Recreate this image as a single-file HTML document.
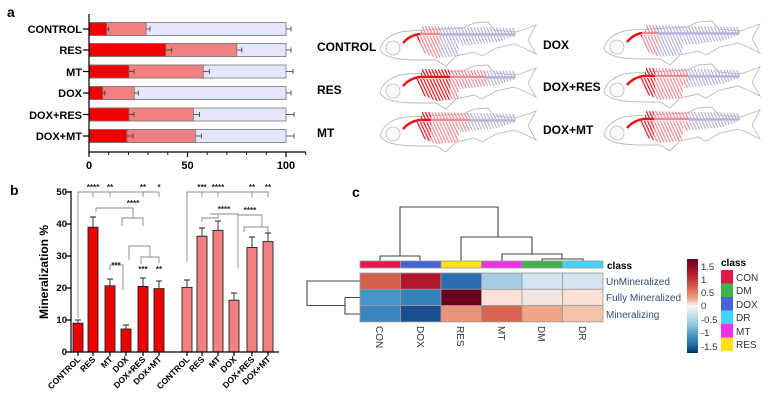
<!DOCTYPE html>
<html><head><meta charset="utf-8"><style>
body{margin:0;background:#fff}
svg{display:block;font-family:"Liberation Sans",Arial,sans-serif}
.b{font-weight:bold}
</style></head><body>
<svg width="768" height="401" viewBox="0 0 768 401" xmlns="http://www.w3.org/2000/svg">
<defs>
<pattern id="pr" width="3.2" height="30" patternUnits="userSpaceOnUse" patternTransform="skewX(25)"><rect width="1.3" height="30" fill="#e8141c"/></pattern>
<pattern id="pp" width="3.2" height="30" patternUnits="userSpaceOnUse" patternTransform="skewX(25)"><rect width="1.3" height="30" fill="#ee8a92"/></pattern>
<pattern id="pl" width="3.2" height="30" patternUnits="userSpaceOnUse" patternTransform="skewX(25)"><rect width="1.3" height="30" fill="#b9b0d8"/></pattern>
<clipPath id="ribs"><path d="M38,14 L82,14 L80,34 L58,36 L44,30 Z M42,13 L138,13 L136,6 L44,4 Z M82,14 L138,14 L120,20 L82,24 Z"/></clipPath>
<symbol id="fish" viewBox="0 0 160 46" width="160" height="46" overflow="visible">
<path d="M2,28 C4,18 14,10 30,9 L85,6 L96,1 L110,0 L116,8 L138,10 L150,6 L158,3 L150,18 L158,32 L146,26 L136,22 L118,26 L104,34 L96,30 L78,34 L68,44 L58,38 L45,38 C30,38 8,38 2,28 Z" fill="#fff" stroke="#bbb" stroke-width="0.9"/>
<circle cx="15" cy="26" r="7" fill="#fafafa" stroke="#bbb" stroke-width="0.8"/>
</symbol>
</defs>

<!-- Panel a -->
<text x="7" y="17" class="b" font-size="14">a</text>
<g font-size="11" class="b" text-anchor="end">
<text x="82" y="33">CONTROL</text><text x="82" y="54">RES</text><text x="82" y="76">MT</text>
<text x="82" y="97">DOX</text><text x="82" y="119">DOX+RES</text><text x="82" y="140">DOX+MT</text>
</g>
<g stroke="#777" stroke-width="0.8">
<rect x="89" y="22.5" width="197" height="13" fill="#e4e6fb"/><rect x="89" y="22.5" width="57.1" height="13" fill="#f28080"/><rect x="89" y="22.5" width="17.7" height="13" fill="#f00000"/>
<rect x="89" y="43.5" width="197" height="13" fill="#e4e6fb"/><rect x="89" y="43.5" width="147.8" height="13" fill="#f28080"/><rect x="89" y="43.5" width="76.8" height="13" fill="#f00000"/>
<rect x="89" y="65" width="197" height="13" fill="#e4e6fb"/><rect x="89" y="65" width="114.3" height="13" fill="#f28080"/><rect x="89" y="65" width="40" height="13" fill="#f00000"/>
<rect x="89" y="86.5" width="197" height="13" fill="#e4e6fb"/><rect x="89" y="86.5" width="45.3" height="13" fill="#f28080"/><rect x="89" y="86.5" width="13.8" height="13" fill="#f00000"/>
<rect x="89" y="108" width="197" height="13" fill="#e4e6fb"/><rect x="89" y="108" width="104.4" height="13" fill="#f28080"/><rect x="89" y="108" width="40" height="13" fill="#f00000"/>
<rect x="89" y="129.5" width="197" height="13" fill="#e4e6fb"/><rect x="89" y="129.5" width="106.4" height="13" fill="#f28080"/><rect x="89" y="129.5" width="38" height="13" fill="#f00000"/>
</g>
<g stroke="#333" stroke-width="0.8" fill="none">
<path d="M106.7,29h2M108.7,27v4 M146,29h4M150,26.5v5 M286,29h5M291,26.5v5"/>
<path d="M165.8,50h6M171.8,47.5v5 M236.8,50h5M241.8,47.5v5 M286,50h5M291,47.5v5"/>
<path d="M129,71.5h5M134,69v5 M203.3,71.5h6M209.3,69v5 M286,71.5h7M293,69v5"/>
<path d="M102.8,93h2M104.8,90.5v5 M134.3,93h4M138.3,90.5v5 M286,93h5M291,90.5v5"/>
<path d="M129,114.5h5M134,112v5 M193.4,114.5h6M199.4,112v5 M286,114.5h8M294,112v5"/>
<path d="M127,136h6M133,133.5v5 M195.4,136h6M201.4,133.5v5 M286,136h8M294,133.5v5"/>
</g>
<g stroke="#000" stroke-width="1.2" fill="none">
<path d="M89,14V152H306"/>
<path d="M89,152v5M187.5,152v5M286,152v5" />
<path d="M108.7,152v3M128.4,152v3M148.1,152v3M167.8,152v3M207.2,152v3M226.9,152v3M246.6,152v3M266.3,152v3M305.7,152v3" stroke-width="0.9"/>
<path d="M83,29h6M83,50h6M83,71.5h6M83,93h6M83,114.5h6M83,136h6"/>
</g>
<g font-size="11" class="b" text-anchor="middle"><text x="89" y="169">0</text><text x="187.5" y="169">50</text><text x="286" y="169">100</text></g>

<!-- Fish -->
<g font-size="12" class="b">
<text x="317" y="51">CONTROL</text><text x="317" y="94">RES</text><text x="317" y="137">MT</text>
<text x="543" y="49">DOX</text><text x="543" y="91">DOX+RES</text><text x="543" y="134">DOX+MT</text>
</g>
<g transform="translate(378,22)"><use href="#fish"/><g clip-path="url(#ribs)"><rect x="0" y="0" width="42" height="46" fill="url(#pr)"/><rect x="42" y="0" width="20" height="46" fill="url(#pp)"/><rect x="62" y="0" width="90" height="46" fill="url(#pl)"/></g><path d="M25,21 Q32,13 42,12" stroke="#e8141c" stroke-width="2.5" fill="none"/><path d="M42,12H62" stroke="#ee8a92" stroke-width="2.5"/><path d="M62,12.5H137" stroke="#b9b0d8" stroke-width="2.5"/></g>
<g transform="translate(378,65)"><use href="#fish"/><g clip-path="url(#ribs)"><rect x="0" y="0" width="72" height="46" fill="url(#pr)"/><rect x="72" y="0" width="36" height="46" fill="url(#pp)"/><rect x="108" y="0" width="44" height="46" fill="url(#pl)"/></g><path d="M25,21 Q32,13 42,12H72" stroke="#e8141c" stroke-width="2.5" fill="none"/><path d="M72,12H108" stroke="#ee8a92" stroke-width="2.5"/><path d="M108,12.5H137" stroke="#b9b0d8" stroke-width="2.5"/></g>
<g transform="translate(378,108)"><use href="#fish"/><g clip-path="url(#ribs)"><rect x="0" y="0" width="53" height="46" fill="url(#pr)"/><rect x="53" y="0" width="38" height="46" fill="url(#pp)"/><rect x="91" y="0" width="61" height="46" fill="url(#pl)"/></g><path d="M25,21 Q32,13 42,12H53" stroke="#e8141c" stroke-width="2.5" fill="none"/><path d="M53,12H91" stroke="#ee8a92" stroke-width="2.5"/><path d="M91,12.5H137" stroke="#b9b0d8" stroke-width="2.5"/></g>
<g transform="translate(602,21)"><use href="#fish"/><g clip-path="url(#ribs)"><rect x="0" y="0" width="40" height="46" fill="url(#pr)"/><rect x="40" y="0" width="16" height="46" fill="url(#pp)"/><rect x="56" y="0" width="96" height="46" fill="url(#pl)"/></g><path d="M25,21 Q32,13 40,12" stroke="#e8141c" stroke-width="2.5" fill="none"/><path d="M40,12H56" stroke="#ee8a92" stroke-width="2.5"/><path d="M56,12.5H137" stroke="#b9b0d8" stroke-width="2.5"/></g>
<g transform="translate(602,64)"><use href="#fish"/><g clip-path="url(#ribs)"><rect x="0" y="0" width="53" height="46" fill="url(#pr)"/><rect x="53" y="0" width="33" height="46" fill="url(#pp)"/><rect x="86" y="0" width="66" height="46" fill="url(#pl)"/></g><path d="M25,21 Q32,13 42,12H53" stroke="#e8141c" stroke-width="2.5" fill="none"/><path d="M53,12H86" stroke="#ee8a92" stroke-width="2.5"/><path d="M86,12.5H137" stroke="#b9b0d8" stroke-width="2.5"/></g>
<g transform="translate(602,107)"><use href="#fish"/><g clip-path="url(#ribs)"><rect x="0" y="0" width="52" height="46" fill="url(#pr)"/><rect x="52" y="0" width="35" height="46" fill="url(#pp)"/><rect x="87" y="0" width="65" height="46" fill="url(#pl)"/></g><path d="M25,21 Q32,13 42,12H52" stroke="#e8141c" stroke-width="2.5" fill="none"/><path d="M52,12H87" stroke="#ee8a92" stroke-width="2.5"/><path d="M87,12.5H137" stroke="#b9b0d8" stroke-width="2.5"/></g>

<!-- Panel b -->
<text x="10" y="195" class="b" font-size="14">b</text>
<text transform="translate(48,272) rotate(-90)" text-anchor="middle" font-size="12" class="b">Mineralization %</text>
<g font-size="9.5" class="b" text-anchor="end">
<text x="67" y="355">0</text><text x="67" y="323">10</text><text x="67" y="291">20</text><text x="67" y="259">30</text><text x="67" y="227">40</text><text x="67" y="195">50</text>
</g>
<g stroke="#222" stroke-width="0.9">
<rect x="73" y="323.2" width="10" height="28.8" fill="#ee0000"/>
<rect x="88" y="227.2" width="10" height="124.8" fill="#ee0000"/>
<rect x="105" y="285.8" width="10" height="66.2" fill="#ee0000"/>
<rect x="121" y="329" width="10" height="23" fill="#ee0000"/>
<rect x="138" y="286.4" width="10" height="65.6" fill="#ee0000"/>
<rect x="154" y="288.6" width="10" height="63.4" fill="#ee0000"/>
<rect x="182" y="287.4" width="10" height="64.6" fill="#f28080"/>
<rect x="197" y="236.2" width="10" height="115.8" fill="#f28080"/>
<rect x="213" y="230.4" width="10" height="121.6" fill="#f28080"/>
<rect x="229" y="300.2" width="10" height="51.8" fill="#f28080"/>
<rect x="247" y="247.4" width="10" height="104.6" fill="#f28080"/>
<rect x="263" y="241.6" width="10" height="110.4" fill="#f28080"/>
</g>
<g stroke="#222" stroke-width="0.9" fill="none">
<path d="M78,323v-3h-3h6 M93,227v-10h-3h6 M110,286v-7h-3h6 M126,329v-4h-3h6 M143,286v-8h-3h6 M159,289v-8h-3h6"/>
<path d="M187,287v-7h-3h6 M202,236v-8h-3h6 M218,230v-9h-3h6 M234,300v-7h-3h6 M252,247v-10h-3h6 M268,242v-9h-3h6"/>
</g>
<g stroke="#000" stroke-width="1.2" fill="none">
<path d="M71,191V352H279"/>
<path d="M66,352h5M66,320h5M66,288h5M66,256h5M66,224h5M66,192h5"/>
<path d="M78,352v4M93,352v4M110,352v4M126,352v4M143,352v4M159,352v4M187,352v4M202,352v4M218,352v4M234,352v4M252,352v4M268,352v4"/>
</g>
<g stroke="#888" stroke-width="0.9" fill="none">
<path d="M78,318V192H159 M93,192v5M110,192v5M143,192v5M159,192v5"/>
<path d="M96,212v-4H133V218 M122,226v-8H143v8"/>
<path d="M110,270v-5H123V290"/>
<path d="M129,260v-14H150V257 M141,264v-7H159v6"/>
<path d="M187,262V192H268 M202,192v5M218,192v5M252,192v5M268,192v5"/>
<path d="M202,222v-4H218v-4 M210,214H238V268"/>
<path d="M238,215H262V227 M244,232v-5H268v5"/>
</g>
<g font-size="8" class="b" fill="#222" text-anchor="middle">
<text x="93" y="190">****</text><text x="110" y="190">**</text><text x="143" y="190">**</text><text x="159" y="190">*</text>
<text x="133" y="206">****</text><text x="116" y="268">***</text><text x="143" y="272">***</text><text x="159" y="272">**</text>
<text x="202" y="190">***</text><text x="218" y="190">****</text><text x="252" y="190">**</text><text x="268" y="190">**</text>
<text x="224" y="212">****</text><text x="250" y="213">****</text>
</g>
<g font-size="8.5" class="b" text-anchor="end">
<text transform="translate(81,360) rotate(-45)">CONTROL</text>
<text transform="translate(96,360) rotate(-45)">RES</text>
<text transform="translate(113,360) rotate(-45)">MT</text>
<text transform="translate(129,360) rotate(-45)">DOX</text>
<text transform="translate(146,360) rotate(-45)">DOX+RES</text>
<text transform="translate(162,360) rotate(-45)">DOX+MT</text>
<text transform="translate(190,360) rotate(-45)">CONTROL</text>
<text transform="translate(205,360) rotate(-45)">RES</text>
<text transform="translate(221,360) rotate(-45)">MT</text>
<text transform="translate(237,360) rotate(-45)">DOX</text>
<text transform="translate(255,360) rotate(-45)">DOX+RES</text>
<text transform="translate(271,360) rotate(-45)">DOX+MT</text>
</g>

<!-- Panel c -->
<text x="352" y="197" class="b" font-size="14">c</text>
<g stroke="#444" stroke-width="1.1" fill="none">
<path d="M380,261V256H420V261 M400,256V207H498V237 M461,261V237H532V254 M502,261V254H562V259 M542,261V259H583V261"/>
<path d="M360,281H307V305.5H345 M345,297.5H360 M345,297.5V314H360"/>
</g>
<g stroke="#999" stroke-width="0.8">
<rect x="360" y="261" width="40.5" height="7" fill="#e3194b"/>
<rect x="400.5" y="261" width="40.5" height="7" fill="#4363d8"/>
<rect x="441" y="261" width="40.5" height="7" fill="#ffe119"/>
<rect x="481.5" y="261" width="40.5" height="7" fill="#f032e6"/>
<rect x="522" y="261" width="40.5" height="7" fill="#3cb44b"/>
<rect x="562.5" y="261" width="40.5" height="7" fill="#42d4f4"/>
<rect x="360" y="273" width="40.5" height="16.3" fill="#d6604d"/>
<rect x="400.5" y="273" width="40.5" height="16.3" fill="#b2182b"/>
<rect x="441" y="273" width="40.5" height="16.3" fill="#2a6eb0"/>
<rect x="481.5" y="273" width="40.5" height="16.3" fill="#a6cde3"/>
<rect x="522" y="273" width="40.5" height="16.3" fill="#d3e5ef"/>
<rect x="562.5" y="273" width="40.5" height="16.3" fill="#d3e5ef"/>
<rect x="360" y="289.3" width="40.5" height="16.3" fill="#4896c8"/>
<rect x="400.5" y="289.3" width="40.5" height="16.3" fill="#3581ba"/>
<rect x="441" y="289.3" width="40.5" height="16.3" fill="#67001f"/>
<rect x="481.5" y="289.3" width="40.5" height="16.3" fill="#fbe1d6"/>
<rect x="522" y="289.3" width="40.5" height="16.3" fill="#f1e5df"/>
<rect x="562.5" y="289.3" width="40.5" height="16.3" fill="#f8e0d3"/>
<rect x="360" y="305.6" width="40.5" height="16.3" fill="#3d85bd"/>
<rect x="400.5" y="305.6" width="40.5" height="16.3" fill="#1a4f8f"/>
<rect x="441" y="305.6" width="40.5" height="16.3" fill="#eb9377"/>
<rect x="481.5" y="305.6" width="40.5" height="16.3" fill="#da6651"/>
<rect x="522" y="305.6" width="40.5" height="16.3" fill="#f2a486"/>
<rect x="562.5" y="305.6" width="40.5" height="16.3" fill="#f6c3a8"/>
</g>
<text x="607" y="269" class="b" font-size="10">class</text>
<g font-size="10" fill="#2f4f6f"><text x="606" y="285">UnMineralized</text><text x="606" y="301">Fully Mineralized</text><text x="606" y="318">Mineralizing</text></g>
<g font-size="10" fill="#333">
<text transform="translate(376,326) rotate(90)">CON</text>
<text transform="translate(417,326) rotate(90)">DOX</text>
<text transform="translate(457,326) rotate(90)">RES</text>
<text transform="translate(498,326) rotate(90)">MT</text>
<text transform="translate(538,326) rotate(90)">DM</text>
<text transform="translate(579,326) rotate(90)">DR</text>
</g>
<defs><linearGradient id="cb" x1="0" y1="0" x2="0" y2="1">
<stop offset="0" stop-color="#67001f"/><stop offset="0.15" stop-color="#b2182b"/><stop offset="0.3" stop-color="#d6604d"/><stop offset="0.42" stop-color="#f4a582"/><stop offset="0.5" stop-color="#f7f7f7"/><stop offset="0.58" stop-color="#d1e5f0"/><stop offset="0.7" stop-color="#92c5de"/><stop offset="0.82" stop-color="#4393c3"/><stop offset="0.92" stop-color="#2166ac"/><stop offset="1" stop-color="#053061"/>
</linearGradient></defs>
<rect x="687" y="259" width="11" height="94" fill="url(#cb)"/>
<g font-size="9.5" fill="#333"><text x="701" y="270">1.5</text><text x="701" y="283">1</text><text x="701" y="296">0.5</text><text x="701" y="309">0</text><text x="701" y="323">-0.5</text><text x="701" y="336">-1</text><text x="701" y="350">-1.5</text></g>
<text x="721" y="266" class="b" font-size="10">class</text>
<rect x="721" y="270" width="12" height="13.5" fill="#e3194b"/>
<rect x="721" y="283.5" width="12" height="13.5" fill="#3cb44b"/>
<rect x="721" y="297" width="12" height="13.5" fill="#4363d8"/>
<rect x="721" y="310.5" width="12" height="13.5" fill="#42d4f4"/>
<rect x="721" y="324" width="12" height="13.5" fill="#f032e6"/>
<rect x="721" y="337.5" width="12" height="13.5" fill="#ffe119"/>
<g font-size="10" fill="#333"><text x="736" y="281">CON</text><text x="736" y="294">DM</text><text x="736" y="308">DOX</text><text x="736" y="321">DR</text><text x="736" y="335">MT</text><text x="736" y="348">RES</text></g>
</svg>
</body></html>
